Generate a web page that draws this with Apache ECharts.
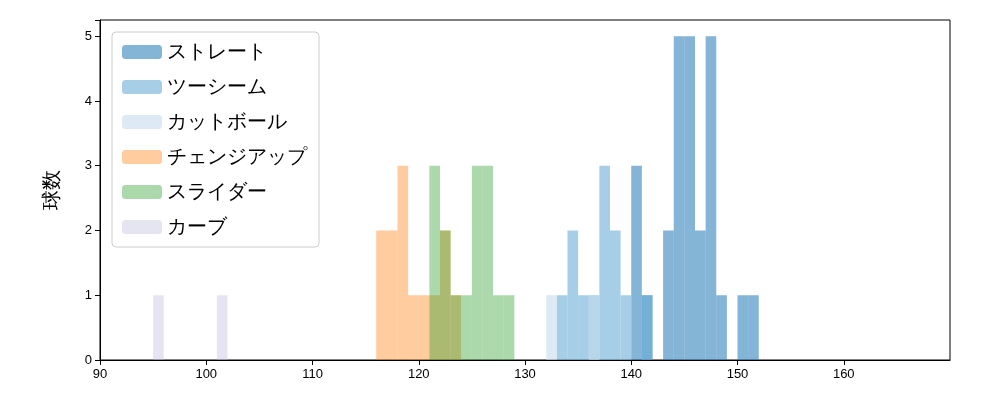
<!DOCTYPE html>
<html><head><meta charset="utf-8">
<script src="https://cdn.jsdelivr.net/npm/echarts@6/dist/echarts.min.js"></script>
</head><body style="margin:0">
<div id="c" style="width:1000px;height:400px"></div>
<script>
// each entry: [bin start (km/h), count], bins 1 km/h wide
const straight = [[140,3],[141,1],[143,2],[144,5],[145,5],[146,2],[147,5],[148,1],[150,1],[151,1]];
const twoSeam = [[133,1],[134,2],[135,1],[136,1],[137,3],[138,2],[139,1],[141,1]];
const cutter = [[132,1],[136,1]];
const changeup = [[116,2],[117,2],[118,3],[119,1],[120,1],[121,1],[122,2],[123,1]];
const slider = [[121,3],[122,2],[123,1],[124,1],[125,3],[126,3],[127,1],[128,1]];
const curve = [[95,1],[101,1]];
const names = ['ストレート','ツーシーム','カットボール','チェンジアップ','スライダー','カーブ'];
const colors = ['rgba(31,119,180,0.55)','rgba(107,174,214,0.6)','rgba(198,219,239,0.6)',
  'rgba(255,127,14,0.4)','rgba(44,160,44,0.4)','rgba(188,189,220,0.4)'];
const sets = [straight, twoSeam, cutter, changeup, slider, curve];

function renderBin(params, api) {
  const x0 = api.value(0), h = api.value(1);
  const p0 = api.coord([x0, h]), p1 = api.coord([x0 + 1, 0]);
  return {type:'rect', shape:{x:p0[0], y:p0[1], width:p1[0]-p0[0], height:p1[1]-p0[1]},
    style:{fill: api.visual('color')}};
}

const chart = echarts.init(document.getElementById('c'));
chart.setOption({
  animation:false,
  grid:{left:100, right:50, top:20, bottom:40},
  xAxis:{type:'value', min:90, max:170, interval:10,
    axisLine:{lineStyle:{color:'#000'}}, axisTick:{length:5, lineStyle:{color:'#000'}},
    axisLabel:{color:'#000', fontSize:13, showMaxLabel:false, formatter:v=>v>160?'':v},
    splitLine:{show:false}},
  yAxis:{type:'value', min:0, max:5.25, interval:1,
    name:'球数', nameLocation:'middle', nameGap:38, nameTextStyle:{fontSize:20, color:'#000'},
    axisLine:{show:true, lineStyle:{color:'#000'}}, axisTick:{show:true, length:5, lineStyle:{color:'#000'}},
    axisLabel:{color:'#000', fontSize:13, formatter:v=>Number.isInteger(v)?v:''},
    splitLine:{show:false}},
  legend:{orient:'vertical', left:112, top:32, itemWidth:40, itemHeight:14, itemGap:15,
    padding:[10,12,10,10], borderColor:'#ccc', borderWidth:1, borderRadius:4,
    textStyle:{fontSize:20, color:'#000'}, data:names},
  series: sets.map((d,i)=>({name:names[i], type:'custom', renderItem:renderBin,
    itemStyle:{color:colors[i]}, encode:{x:0,y:1}, data:d}))
});
// top/right frame
chart.setOption({graphic:[{type:'rect', shape:{x:100,y:20,width:850,height:340},
  style:{fill:'none', stroke:'#000', lineWidth:1}, silent:true}]});
</script></body></html>
